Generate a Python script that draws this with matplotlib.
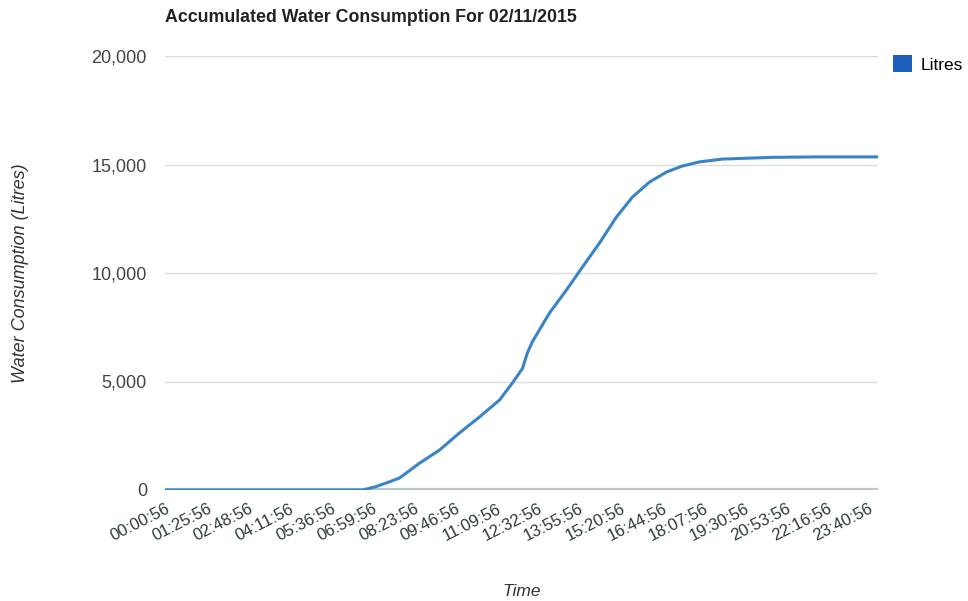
import matplotlib.pyplot as plt
from matplotlib.patches import Patch

# hours since midnight and accumulated litres
hours = [0.02, 2.0, 4.0, 6.0, 6.66, 7.1, 7.57, 7.90, 8.58, 9.25, 9.92, 10.59, 11.27,
         11.70, 12.04, 12.2, 12.38, 12.95, 13.52, 14.06, 14.63, 15.20, 15.74, 16.31,
         16.88, 17.42, 17.99, 18.77, 20.45, 22.0, 23.98]
litres = [0, 0, 0, 0, 0, 150, 380, 550, 1240, 1840, 2630, 3360, 4150,
          4930, 5600, 6300, 6850, 8160, 9220, 10280, 11380, 12580, 13500, 14190,
          14650, 14930, 15120, 15250, 15330, 15350, 15350]

tick_labels = ['00:00:56', '01:25:56', '02:48:56', '04:11:56', '05:36:56', '06:59:56',
               '08:23:56', '09:46:56', '11:09:56', '12:32:56', '13:55:56', '15:20:56',
               '16:44:56', '18:07:56', '19:30:56', '20:53:56', '22:16:56', '23:40:56']
y_ticks = [0, 5000, 10000, 15000, 20000]


def to_hours(s):
    h, m, sec = s.split(':')
    return int(h) + int(m) / 60 + int(sec) / 3600


tick_pos = [to_hours(s) for s in tick_labels]

plt.rcParams['font.family'] = ['Liberation Sans', 'DejaVu Sans']

fig = plt.figure(figsize=(9.68, 6.01), dpi=100)
ax = fig.add_axes([165 / 968, 1 - 490 / 601, 713 / 968, 434 / 601])

# light baseline along zero
ax.plot([tick_pos[0], 23.999], [0, 0], color='#b3c9d9', lw=3, zorder=2, solid_capstyle='butt')
ax.plot(hours, litres, color='#3a84c6', lw=2.2, zorder=3)

ax.set_xlim(tick_pos[0], 23.999)
ax.set_ylim(0, 20000)
ax.set_yticks(y_ticks)
ax.set_yticklabels([f'{v:,}' for v in y_ticks], color='#444444', fontsize=13)
ax.yaxis.grid(True, color='#dddddd', lw=1)
ax.set_axisbelow(True)
ax.set_xticks(tick_pos)
ax.set_xticklabels(tick_labels, rotation=27, ha='right', rotation_mode='anchor',
                   color='#2b3a3a', fontsize=12)
ax.tick_params(length=0, pad=13)
ax.tick_params(axis='x', pad=8)
for s in ax.spines.values():
    s.set_visible(False)

ax.set_ylabel('Water Consumption (Litres)', fontstyle='italic', fontsize=13, color='#333333')
ax.yaxis.set_label_coords(-136 / 713, 0.5)
ax.set_xlabel('Time', fontstyle='italic', fontsize=12.5, color='#333333')
ax.xaxis.set_label_coords((522 - 165) / 713, -94 / 434)

fig.text(165 / 968, 1 - 18 / 601, 'Accumulated Water Consumption For 02/11/2015',
         fontsize=12.8, fontweight='bold', color='#222222', va='center')

fig.legend(handles=[Patch(facecolor='#1e5fbe', edgecolor='none', label='Litres')],
           loc='center left', bbox_to_anchor=(893 / 968, 1 - 64 / 601), frameon=False,
           borderpad=0, borderaxespad=0,
           fontsize=12.5, handlelength=1.1, handleheight=1.1, handletextpad=0.5)

fig.savefig('out.png', dpi=100, facecolor='white')
